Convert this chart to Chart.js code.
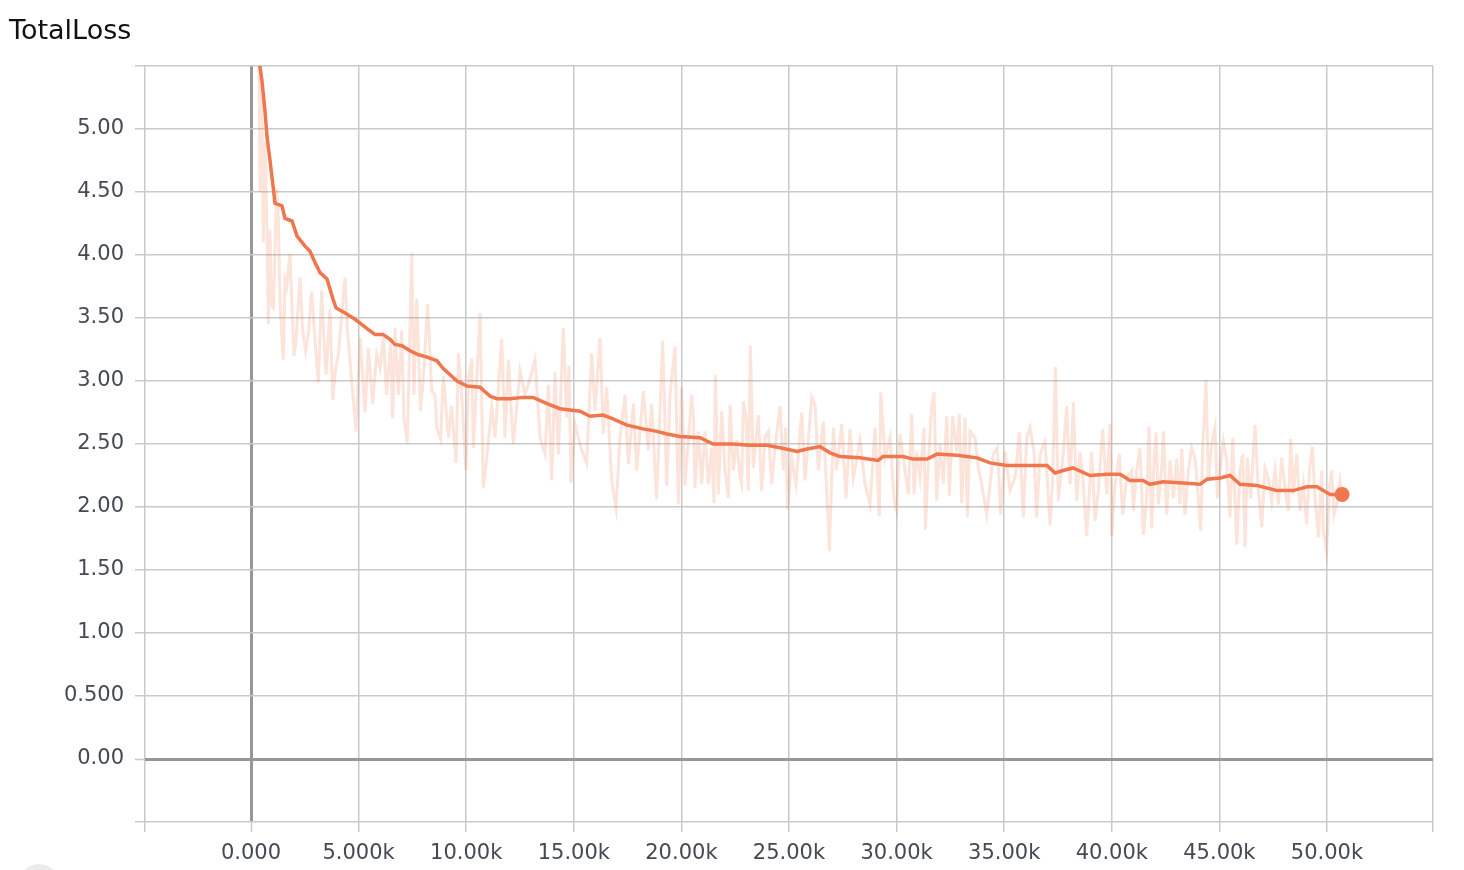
<!DOCTYPE html>
<html>
<head>
<meta charset="utf-8">
<title>TotalLoss</title>
<script src="https://cdn.jsdelivr.net/npm/chart.js@4.4.1/dist/chart.umd.min.js"></script>
<style>
  html, body { margin: 0; padding: 0; background: #fff; overflow: hidden; }
  #wrap { position: relative; width: 1464px; height: 870px; }
  #lossChart { position: absolute; left: 0; top: 0; }
  #title { position: absolute; left: 9px; top: 14px; font: 27px "DejaVu Sans", sans-serif; color: #111; line-height: 31px; }
  #fab { position: absolute; left: 19px; top: 864px; width: 40px; height: 40px; border-radius: 50%; background: #ebebeb; }
</style>
</head>
<body>
<div id="wrap">
  <canvas id="lossChart" width="1464" height="870"></canvas>
  <div id="title">TotalLoss</div>
  <div id="fab"></div>
</div>
<script>
// tick values + labels (tensorboard style formatting)
const xTicks = [0, 5000, 10000, 15000, 20000, 25000, 30000, 35000, 40000, 45000, 50000];
const xTickLabels = ["0.000", "5.000k", "10.00k", "15.00k", "20.00k", "25.00k", "30.00k", "35.00k", "40.00k", "45.00k", "50.00k"];
const yTicks = [0, 0.5, 1, 1.5, 2, 2.5, 3, 3.5, 4, 4.5, 5];
const yTickLabels = ["0.00", "0.500", "1.00", "1.50", "2.00", "2.50", "3.00", "3.50", "4.00", "4.50", "5.00"];

// [step, loss] smoothed curve
const smoothLoss = [
  [330, 5.75], [418, 5.49], [511, 5.38], [651, 5.14], [744, 4.94], [883, 4.75], [1022, 4.55], [1115, 4.41],
  [1441, 4.39], [1580, 4.29], [1905, 4.27], [2138, 4.15], [2509, 4.07], [2742, 4.03], [2974, 3.94], [3206, 3.86],
  [3532, 3.81], [3811, 3.65], [3950, 3.58], [4368, 3.54], [4833, 3.49], [5065, 3.46], [5437, 3.41], [5762, 3.37],
  [6134, 3.37], [6459, 3.33], [6692, 3.29], [7017, 3.28], [7389, 3.24], [7760, 3.21], [8179, 3.19], [8643, 3.16],
  [8922, 3.10], [9573, 3.00], [10037, 2.96], [10642, 2.95], [11106, 2.88], [11432, 2.86], [12036, 2.86], [12640, 2.87],
  [13105, 2.87], [13755, 2.82], [14359, 2.78], [15289, 2.76], [15753, 2.72], [16357, 2.73], [16822, 2.70], [17473, 2.65],
  [18216, 2.62], [18867, 2.60], [19332, 2.58], [19936, 2.56], [20865, 2.55], [21469, 2.50], [22398, 2.50], [23188, 2.49],
  [23979, 2.49], [24583, 2.47], [25373, 2.44], [25837, 2.46], [26441, 2.48], [26906, 2.43], [27371, 2.40], [28300, 2.39],
  [29137, 2.37], [29369, 2.40], [30298, 2.40], [30763, 2.38], [31414, 2.38], [31878, 2.42], [32808, 2.41], [33737, 2.39],
  [34341, 2.35], [35131, 2.33], [36061, 2.33], [36990, 2.33], [37362, 2.27], [37734, 2.29], [38198, 2.31], [38988, 2.25],
  [39778, 2.26], [40383, 2.26], [40847, 2.21], [41451, 2.21], [41776, 2.18], [42381, 2.20], [43310, 2.19], [44100, 2.18],
  [44425, 2.22], [45029, 2.23], [45494, 2.25], [45959, 2.18], [46748, 2.17], [47678, 2.13], [48421, 2.13], [49072, 2.16],
  [49537, 2.16], [50141, 2.10], [50699, 2.10]
];

// [step, loss] raw values (light line)
const rawLoss = [
  [340, 6.4], [420, 4.5], [500, 5.3], [570, 4.1], [650, 4.9], [730, 4.3], [805, 3.45], [880, 4.2], [960, 3.6],
  [1040, 3.58], [1190, 4.53], [1270, 4.3], [1350, 3.6], [1500, 3.17], [1580, 3.8], [1660, 3.75], [1810, 4.01],
  [1900, 3.6], [2000, 3.20], [2080, 3.3], [2280, 3.82], [2400, 3.4], [2540, 3.24], [2680, 3.4], [2820, 3.71],
  [2980, 3.3], [3130, 2.99], [3280, 3.72], [3400, 3.3], [3490, 3.05], [3670, 3.57], [3800, 2.85], [3930, 3.1],
  [4060, 3.21], [4200, 3.5], [4370, 3.82], [4480, 3.4], [4600, 3.16], [4880, 2.60], [5070, 3.34], [5300, 2.75],
  [5450, 3.26], [5650, 2.82], [5840, 3.21], [6000, 3.1], [6150, 3.37], [6300, 2.89], [6490, 3.29], [6580, 2.70],
  [6690, 3.42], [6850, 2.89], [7000, 3.40], [7110, 2.70], [7260, 2.51], [7470, 4.02], [7570, 2.89], [7700, 3.65],
  [7880, 2.76], [8010, 3.03], [8210, 3.61], [8400, 2.92], [8550, 2.89], [8630, 2.63], [8810, 2.54], [8940, 3.04],
  [9170, 2.55], [9320, 2.80], [9530, 2.35], [9640, 3.22], [9790, 2.89], [9990, 2.29], [10100, 3.0],
  [10254, 3.18], [10332, 2.47], [10642, 3.54], [10797, 2.15], [10952, 2.39], [11184, 2.79], [11339, 2.55], [11649, 3.33],
  [11803, 2.55], [11958, 3.17], [12113, 2.71], [12191, 2.50], [12500, 3.08], [12733, 2.89], [12965, 3.02], [13198, 3.17],
  [13430, 2.55], [13662, 2.42], [13817, 2.97], [13972, 2.21], [14127, 3.07], [14282, 2.42], [14514, 3.42], [14669, 2.71],
  [14778, 3.12], [14870, 2.19], [15056, 2.66], [15366, 2.45], [15598, 2.35], [15831, 3.22], [15986, 2.76], [16218, 3.34],
  [16373, 2.58], [16528, 2.95], [16760, 2.21], [16961, 1.99], [17147, 2.55], [17380, 2.89], [17535, 2.34], [17767, 2.82],
  [17922, 2.29], [18232, 2.92], [18464, 2.45], [18619, 2.82], [18851, 2.06], [19130, 3.32], [19316, 2.17], [19471, 2.89],
  [19703, 3.27], [19858, 2.02], [20013, 2.95], [20168, 2.17],
  [20477, 2.89], [20560, 2.71], [20632, 2.15], [20787, 2.60], [20942, 2.18], [21097, 2.60], [21252, 2.18], [21407, 2.47],
  [21515, 2.03], [21577, 3.05], [21717, 2.10], [21872, 2.76], [22026, 2.29], [22181, 2.07], [22259, 2.81], [22414, 2.29],
  [22569, 2.53], [22724, 2.23], [22801, 2.18], [22878, 2.84], [23002, 2.71], [23111, 2.13], [23204, 3.28], [23343, 2.31],
  [23575, 2.73], [23730, 2.13], [23885, 2.55], [24040, 2.60], [24195, 2.18], [24350, 2.47], [24582, 2.80], [24737, 2.29],
  [24846, 2.63], [24939, 1.98], [25124, 2.39], [25326, 2.18], [25589, 2.75], [25744, 2.21], [25899, 2.53], [26054, 2.87],
  [26209, 2.81], [26364, 2.29], [26596, 2.68], [26751, 2.13], [26875, 1.65], [27061, 2.63], [27216, 2.29], [27448, 2.66],
  [27649, 2.07], [27835, 2.62], [27990, 2.23], [28300, 2.53], [28532, 2.18], [28765, 2.02], [28997, 2.63], [29198, 1.93],
  [29260, 2.91], [29462, 2.39], [29694, 2.55], [29880, 2.07], [30004, 1.97], [30159, 2.58], [30391, 2.29], [30546, 2.10],
  [30701, 2.74], [30810, 2.10], [30934, 2.44], [31089, 2.23], [31275, 2.63], [31337, 1.82], [31476, 2.36], [31631, 2.80],
  [31739, 2.91], [31863, 2.05], [32018, 2.50], [32173, 2.18], [32328, 2.72], [32452, 2.09], [32607, 2.72], [32793, 2.44],
  [32917, 2.74], [33025, 2.03], [33180, 2.71], [33288, 1.92], [33412, 2.60], [33644, 2.55], [33799, 2.31], [33954, 2.18],
  [34187, 1.94], [34373, 2.23], [34497, 2.42], [34682, 2.47], [34837, 1.94], [35039, 2.44], [35271, 2.13], [35503, 2.23],
  [35705, 2.59], [35891, 1.92], [36046, 2.55], [36200, 2.63], [36386, 2.44], [36510, 1.92], [36665, 2.42], [36897, 2.52],
  [37130, 1.86], [37254, 2.23], [37378, 3.11], [37517, 2.05], [37749, 2.44], [37904, 2.80], [38059, 2.18], [38214, 2.83],
  [38369, 2.05], [38524, 2.44], [38679, 2.18], [38834, 1.77], [39066, 2.44], [39221, 1.89], [39376, 2.13], [39577, 2.62],
  [39763, 2.10], [39918, 2.66], [39995, 1.77], [40150, 2.18], [40351, 2.42], [40506, 1.94], [40693, 2.23],
  [40924, 2.29], [41002, 1.97], [41157, 2.29], [41312, 2.47], [41467, 1.78], [41622, 2.07], [41730, 2.64], [41854, 1.83],
  [41962, 2.37], [42055, 2.59], [42164, 2.02], [42319, 2.31], [42396, 2.60], [42551, 1.94], [42706, 2.37], [42861, 2.07],
  [43016, 2.38], [43171, 2.02], [43248, 2.46], [43403, 1.94], [43558, 2.29], [43713, 2.47], [43868, 2.39], [44022, 2.07],
  [44131, 1.81], [44224, 2.47], [44379, 3.01], [44487, 2.21], [44642, 2.50], [44797, 2.63], [44905, 2.07], [45029, 2.29],
  [45184, 2.52], [45339, 2.37], [45494, 1.92], [45618, 2.55], [45804, 1.70], [45959, 2.29], [46083, 2.42], [46191, 1.68],
  [46299, 2.39], [46454, 2.07], [46656, 2.65], [46811, 2.13], [46966, 1.84], [47120, 2.31], [47275, 2.23], [47430, 2.05],
  [47585, 2.29], [47740, 2.02], [47895, 2.39], [48050, 2.15], [48205, 1.97], [48313, 2.54], [48437, 2.10], [48592, 2.42],
  [48747, 1.97], [48902, 2.18], [49057, 1.86], [49181, 2.29], [49320, 2.48], [49444, 2.07], [49599, 1.76], [49754, 2.29],
  [49831, 1.81], [49986, 1.65], [50110, 2.15], [50219, 2.29], [50327, 1.94], [50451, 2.02], [50606, 2.21], [50700, 2.10]
];

const xMin = -4926, xMax = 54926;
const yMin = -0.5, yMax = 5.5;

const lineColor = "rgb(240, 118, 77)";
const rawColor = "rgba(240, 118, 77, 0.2)";
const labelFont = { family: "DejaVu Sans", size: 21 };
const labelColor = "#454954";

const toXY = (p) => ({ x: p[0], y: p[1] });
const lastPoint = smoothLoss[smoothLoss.length - 1];

// min / max get a grid line + tick mark but no label
function edgeTicks(values, min, max) {
  return [min].concat(values, [max]).map((v) => ({ value: v }));
}
const gridColor = (ctx) => (ctx.tick && ctx.tick.value === 0 ? "#979797" : "#c9c9c9");
const gridWidth = (ctx) => (ctx.tick && ctx.tick.value === 0 ? 3 : 1.5);

const data = {
  datasets: [
    {
      label: "last",
      data: [toXY(lastPoint)],
      showLine: false,
      pointRadius: 7.5,
      pointBackgroundColor: lineColor,
      pointBorderWidth: 0,
      order: 1,
    },
    {
      label: "TotalLoss (smoothed)",
      data: smoothLoss.map(toXY),
      borderColor: lineColor,
      borderWidth: 3.5,
      pointRadius: 0,
      tension: 0,
      order: 2,
    },
    {
      label: "TotalLoss",
      data: rawLoss.map(toXY),
      borderColor: rawColor,
      borderWidth: 3,
      pointRadius: 0,
      tension: 0,
      order: 3,
    },
  ],
};

const config = {
  type: "line",
  data,
  options: {
    responsive: false,
    animation: false,
    layout: { padding: { left: 0, top: 66, right: 31, bottom: 0 } },
    plugins: { legend: { display: false }, tooltip: { enabled: false } },
    scales: {
      x: {
        type: "linear",
        min: xMin,
        max: xMax,
        afterBuildTicks: (scale) => { scale.ticks = edgeTicks(xTicks, xMin, xMax); },
        afterFit: (scale) => { scale.height = 48; },
        border: { display: false },
        grid: { color: gridColor, lineWidth: gridWidth, tickLength: 10, tickColor: "#c9c9c9", tickWidth: 1.5 },
        ticks: {
          autoSkip: false,
          maxRotation: 0,
          padding: 9,
          font: labelFont,
          color: labelColor,
          callback: (v) => { const i = xTicks.indexOf(v); return i >= 0 ? xTickLabels[i] : ""; },
        },
      },
      y: {
        min: yMin,
        max: yMax,
        afterBuildTicks: (scale) => { scale.ticks = edgeTicks(yTicks, yMin, yMax); },
        afterFit: (scale) => { scale.width = 145; },
        border: { display: false },
        grid: { color: gridColor, lineWidth: gridWidth, tickLength: 10, tickColor: "#c9c9c9", tickWidth: 1.5 },
        ticks: {
          autoSkip: false,
          padding: 11,
          font: labelFont,
          color: labelColor,
          callback: (v) => { const i = yTicks.indexOf(v); return i >= 0 ? yTickLabels[i] : ""; },
        },
      },
    },
  },
};

const lossChart = new Chart(document.getElementById("lossChart"), config);
</script>
</body>
</html>
